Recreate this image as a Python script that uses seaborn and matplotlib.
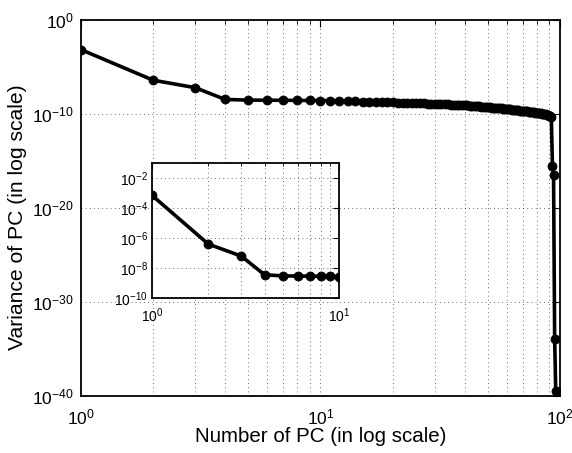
import numpy as np
import pandas as pd
import seaborn as sns
import matplotlib
matplotlib.use("Agg")
import matplotlib.pyplot as plt
from matplotlib.ticker import FixedLocator, LogLocator, NullLocator, NullFormatter, LogFormatterSciNotation

# ---- data ----
pc_number = list(range(1, 97))
log10_variance = [
    -3.15, -6.40, -7.20, -8.45,
    -8.52, -8.53, -8.54, -8.55, -8.56, -8.57,
    -8.59, -8.61, -8.63, -8.65, -8.67, -8.69, -8.71, -8.73, -8.75, -8.77,
    -8.79, -8.80, -8.82, -8.83, -8.85, -8.86, -8.88, -8.89, -8.91, -8.92,
    -8.94, -8.95, -8.97, -8.98, -9.00, -9.01, -9.03, -9.04, -9.06, -9.07,
    -9.09, -9.11, -9.13, -9.15, -9.17, -9.19, -9.21, -9.23, -9.25, -9.27,
    -9.29, -9.31, -9.33, -9.35, -9.37, -9.39, -9.41, -9.43, -9.45, -9.47,
    -9.49, -9.51, -9.53, -9.55, -9.57, -9.59, -9.61, -9.63, -9.65, -9.67,
    -9.69, -9.71, -9.73, -9.75, -9.77, -9.79, -9.81, -9.83, -9.85, -9.87,
    -9.89, -9.91, -9.93, -9.95, -9.98, -10.01, -10.04, -10.08, -10.12, -10.17,
    -10.23, -10.35,
    -15.5, -16.5, -33.9, -39.5,
]
main_yticks = [1e-40, 1e-30, 1e-20, 1e-10, 1e0]
inset_yticks = [1e-10, 1e-8, 1e-6, 1e-4, 1e-2]
inset_count = 10
x_label = "Number of PC (in log scale)"
y_label = "Variance of PC (in log scale)"

df = pd.DataFrame({"pc": pc_number, "var": np.power(10.0, log10_variance)})

sns.set_style("white")
plt.rcParams["font.family"] = ["Liberation Sans", "DejaVu Sans"]
plt.rcParams["mathtext.default"] = "regular"
plt.rcParams["text.color"] = "black"
plt.rcParams["axes.labelcolor"] = "black"
plt.rcParams["xtick.color"] = "black"
plt.rcParams["ytick.color"] = "black"

GRID = dict(ls=(0, (1, 4)), color="black", lw=0.6, alpha=0.75)

fig = plt.figure(figsize=(5.72, 4.53), dpi=100)
ax = fig.add_axes([0.1416, 0.1258, 0.8374, 0.830])
ax.set_xscale("log")
ax.set_yscale("log")

sns.lineplot(data=df, x="pc", y="var", ax=ax, color="black", lw=2.6,
             marker="o", markersize=6.3, markeredgecolor="black", sort=False)

ax.set_xlim(1, 100)
ax.set_ylim(1e-40, 1e0)
ax.yaxis.set_major_locator(FixedLocator(main_yticks))
ax.yaxis.set_major_formatter(LogFormatterSciNotation())
ax.yaxis.set_minor_locator(NullLocator())
ax.xaxis.set_major_locator(LogLocator(base=10))
ax.xaxis.set_minor_locator(LogLocator(base=10, subs=np.arange(2, 10)))
ax.xaxis.set_minor_formatter(NullFormatter())

ax.grid(True, which="both", axis="x", **GRID)
ax.grid(True, which="major", axis="y", **GRID)

ax.tick_params(which="both", direction="in", top=True, right=True, color="black")
ax.tick_params(which="major", length=5, width=0.8, labelsize=12.5)
ax.tick_params(axis="x", which="major", pad=8)
ax.tick_params(axis="y", which="major", pad=5)
ax.tick_params(which="minor", length=3, width=0.6)
for s in ax.spines.values():
    s.set_color("black")
    s.set_linewidth(1.3)
ax.set_xlabel(x_label, fontsize=14.8, labelpad=0)
ax.set_ylabel(y_label, fontsize=15.2)
ax.yaxis.set_label_coords(-0.113, 0.475)

# ---- inset ----
ins = fig.add_axes([0.2657, 0.342, 0.327, 0.298])
ins.set_xscale("log")
ins.set_yscale("log")
sns.lineplot(data=df.iloc[:inset_count], x="pc", y="var", ax=ins, color="black", lw=2.6,
             marker="o", markersize=6.3, markeredgecolor="black", sort=False)
ins.set_xlim(1, 10)
ins.set_ylim(1e-10, 1e-1)
ins.yaxis.set_major_locator(FixedLocator(inset_yticks))
ins.yaxis.set_major_formatter(LogFormatterSciNotation())
ins.yaxis.set_minor_locator(NullLocator())
ins.xaxis.set_major_locator(FixedLocator([1, 10]))
ins.xaxis.set_major_formatter(LogFormatterSciNotation())
ins.xaxis.set_minor_locator(LogLocator(base=10, subs=np.arange(2, 10)))
ins.xaxis.set_minor_formatter(NullFormatter())
ins.grid(True, which="both", axis="x", **GRID)
ins.grid(True, which="major", axis="y", **GRID)
ins.tick_params(which="both", direction="in", top=True, right=True, color="black")
ins.tick_params(which="major", length=4, width=0.8, labelsize=10)
ins.tick_params(axis="x", which="major", pad=6)
ins.tick_params(axis="y", which="major", pad=3)
ins.tick_params(which="minor", length=2, width=0.6)
for s in ins.spines.values():
    s.set_color("black")
    s.set_linewidth(1.3)
ins.set_xlabel("")
ins.set_ylabel("")

fig.savefig("out.png", dpi=100, facecolor="white")
